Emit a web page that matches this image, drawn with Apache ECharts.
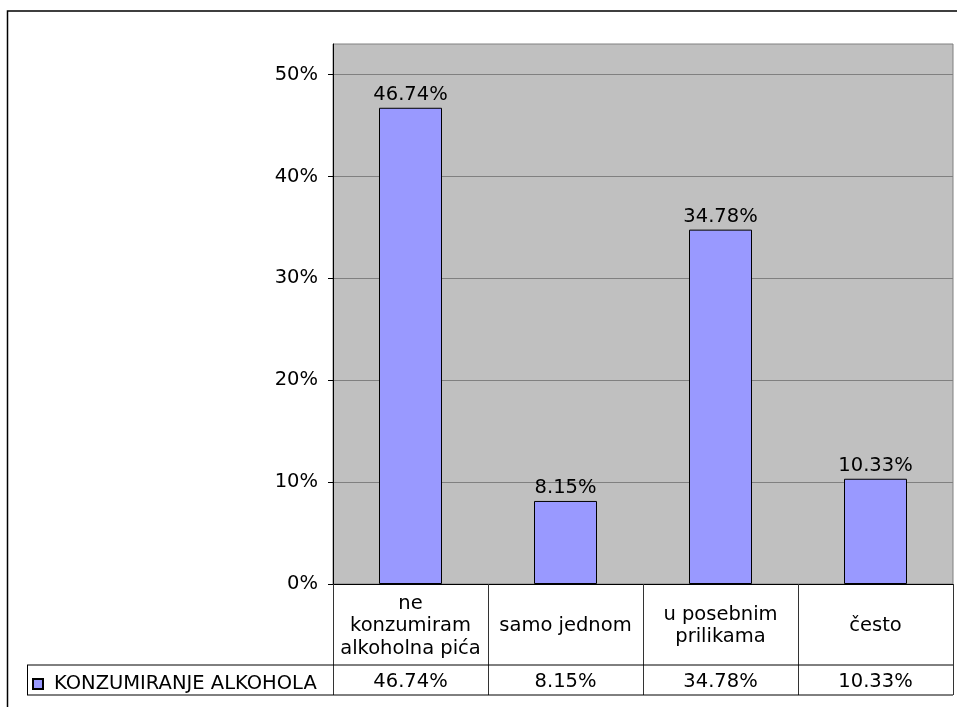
<!DOCTYPE html>
<html>
<head>
<meta charset="utf-8">
<script src="https://cdn.jsdelivr.net/npm/echarts@6/dist/echarts.min.js"></script>
<style>
html,body{margin:0;padding:0;background:#fff;}
#main{width:957px;height:707px;}
</style>
</head>
<body>
<div id="main"></div>
<script>
const seriesName = 'KONZUMIRANJE ALKOHOLA';
const categories = ['ne\nkonzumiram\nalkoholna pića', 'samo jednom', 'u posebnim\nprilikama', 'često'];
const values = [46.74, 8.15, 34.78, 10.33];
const yTicks = [0, 10, 20, 30, 40, 50];

const FONT = 'DejaVu Sans';
const FS = 19.5;
const chart = echarts.init(document.getElementById('main'), null, {renderer: 'canvas'});

const gridL = 333, gridR = 4, gridT = 44, gridB = 123;
const W = 957, H = 707;
const bottomY = H - gridB;          // 584
const rowY = 665, tableBottom = 695, legendLeft = 27;

const option = {
  animation: false,
  backgroundColor: '#ffffff',
  textStyle: {fontFamily: FONT},
  grid: {
    left: gridL, right: gridR, top: gridT, bottom: gridB,
    show: true, backgroundColor: '#C0C0C0', borderColor: '#808080', borderWidth: 1
  },
  legend: {
    data: [seriesName],
    left: 32, top: 674, padding: 0,
    icon: 'rect', itemWidth: 10, itemHeight: 10, itemGap: 10,
    textStyle: {fontFamily: FONT, fontSize: FS, color: '#000', padding: [0, 0, 0, 6]}
  },
  xAxis: [{
    type: 'category',
    data: categories,
    position: 'bottom',
    axisLine: {show: true, lineStyle: {color: '#000', width: 1}},
    axisTick: {show: true, inside: false, length: tableBottom - bottomY, lineStyle: {color: '#333', width: 1}},
    axisLabel: {
      fontFamily: FONT, fontSize: FS, color: '#000', lineHeight: 22.5,
      margin: 42, verticalAlign: 'middle', align: 'center', interval: 0
    },
    splitLine: {show: false}
  }, {
    type: 'category',
    data: categories,
    position: 'bottom',
    axisLine: {show: false},
    axisTick: {show: false},
    axisLabel: {
      fontFamily: FONT, fontSize: FS, color: '#000',
      margin: 98, verticalAlign: 'middle', align: 'center', interval: 0,
      formatter: function (v, i) { return values[i].toFixed(2) + '%'; }
    }
  }],
  yAxis: {
    type: 'value',
    min: 0, max: 53, interval: 10,
    axisLine: {show: true, lineStyle: {color: '#000', width: 1}},
    axisTick: {show: true, length: 5, lineStyle: {color: '#000'}, customValues: yTicks},
    axisLabel: {
      fontFamily: FONT, fontSize: FS, color: '#000', margin: 15,
      customValues: yTicks,
      formatter: function (v) { return yTicks.indexOf(v) >= 0 ? v + '%' : ''; }
    },
    splitLine: {show: true, lineStyle: {color: '#808080', width: 1}}
  },
  series: [{
    name: seriesName,
    type: 'bar',
    xAxisIndex: 0,
    data: values,
    barWidth: 63,
    itemStyle: {color: '#9999FF', borderColor: '#000', borderWidth: 1},
    label: {
      show: true, position: 'top', distance: 3,
      fontFamily: FONT, fontSize: FS, color: '#000',
      formatter: function (p) { return p.value.toFixed(2) + '%'; }
    }
  }],
  graphic: [
    {type: 'rect', shape: {x: 7.5, y: 11, width: 1200, height: 1200}, style: {fill: null, stroke: '#000', lineWidth: 1.5}, z: 100},
    {type: 'line', shape: {x1: legendLeft, y1: rowY, x2: W - gridR, y2: rowY}, style: {stroke: '#000', lineWidth: 1}, z: 100},
    {type: 'line', shape: {x1: legendLeft, y1: tableBottom, x2: W - gridR, y2: tableBottom}, style: {stroke: '#000', lineWidth: 1}, z: 100},
    {type: 'line', shape: {x1: legendLeft + 0.5, y1: rowY, x2: legendLeft + 0.5, y2: tableBottom}, style: {stroke: '#000', lineWidth: 1}, z: 100}
  ]
};
chart.setOption(option);
</script>
</body>
</html>
